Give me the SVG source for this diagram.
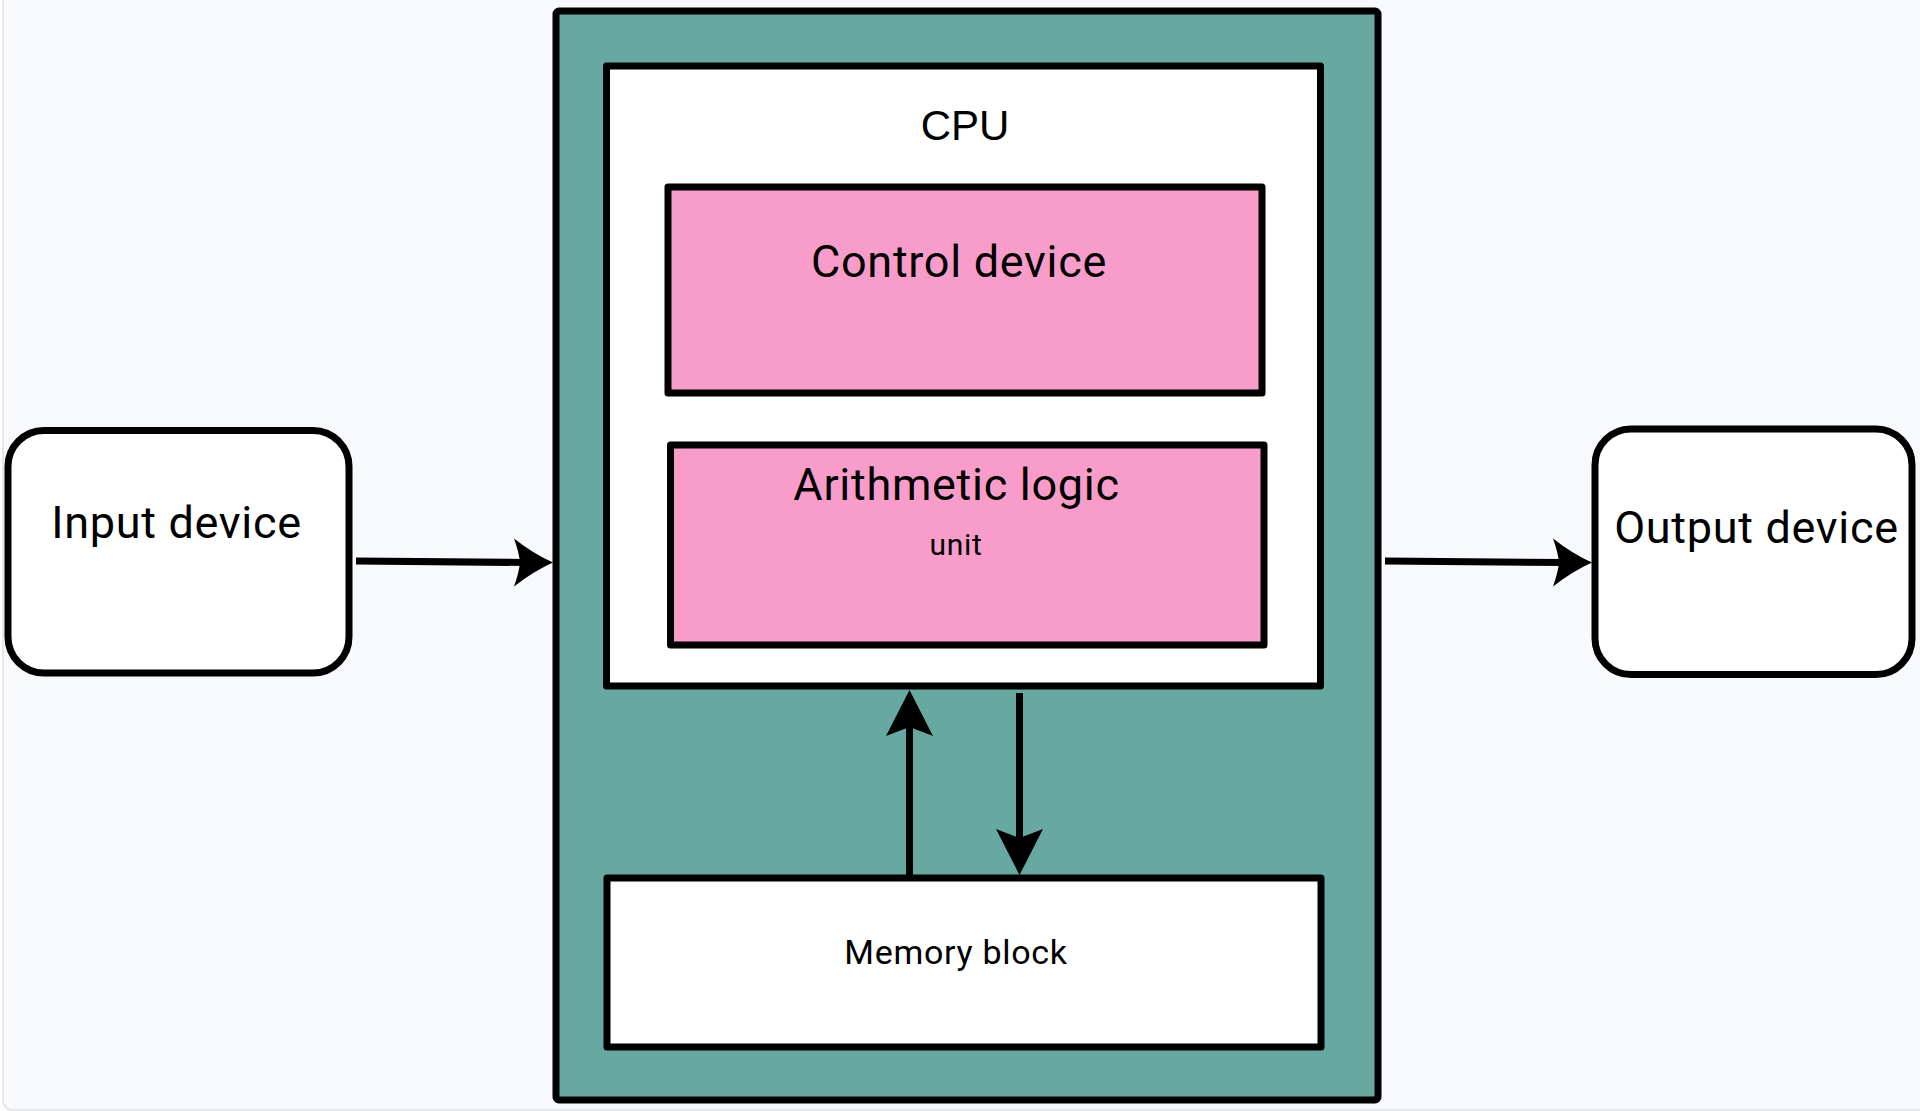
<svg xmlns="http://www.w3.org/2000/svg" xmlns:xlink="http://www.w3.org/1999/xlink" width="1920" height="1111" viewBox="0 0 1920 1111">
  <style>
    .box { stroke: #000; stroke-width: 7; stroke-linejoin: round; }
    .teal { fill: #67a9a1; }
    .white { fill: #ffffff; }
    .pink { fill: #f89dca; }
    .lbl { font-family: Roboto, "Liberation Sans", sans-serif; fill: #000; text-anchor: middle; letter-spacing: 0.7px; }
    .cpu { font-family: "Liberation Sans", Arial, sans-serif; fill: #000; text-anchor: middle; }
    .wire { stroke: #000; stroke-width: 7; fill: none; }
    .head { fill: #000; }
  </style>
  <defs>
    <path id="headFin" d="M0,0 Q-20,-9 -39,-24 Q-34,-10 -33,0 Q-34,10 -39,24 Q-20,9 0,0 Z"/>
    <path id="headStealth" d="M0,0 L-46,-23.5 L-37,0 L-46,23.5 Z"/>
  </defs>

  <rect x="0" y="0" width="1920" height="1111" fill="#ffffff"/>
  <rect x="3" y="-10" width="1930" height="1120" rx="9" fill="#f8f9fd" stroke="#dfe1e5" stroke-width="1.5"/>

  <g id="cpu-outer">
    <rect class="box teal" x="556" y="11" width="822" height="1089" rx="3"/>
  </g>
  <g id="cpu">
    <rect class="box white" x="606.5" y="66" width="714" height="620"/>
    <text class="cpu" x="965" y="140" font-size="42">CPU</text>
  </g>
  <g id="control-device">
    <rect class="box pink" x="668" y="187" width="594" height="206"/>
    <text class="lbl" x="959" y="277" font-size="45">Control device</text>
  </g>
  <g id="alu">
    <rect class="box pink" x="670.5" y="445" width="593.5" height="200"/>
    <text class="lbl" x="956.5" y="500" font-size="45">Arithmetic logic</text>
    <text class="lbl" x="956" y="555" font-size="30">unit</text>
  </g>
  <g id="memory-block">
    <rect class="box white" x="607" y="878" width="714" height="169"/>
    <text class="lbl" x="956" y="964" font-size="34">Memory block</text>
  </g>
  <g id="input-device">
    <rect class="box white" x="8" y="430.5" width="341" height="242.5" rx="36"/>
    <text class="lbl" x="176.5" y="538" font-size="45">Input device</text>
  </g>
  <g id="output-device">
    <rect class="box white" x="1595" y="429" width="317" height="245.5" rx="36"/>
    <text class="lbl" x="1756.5" y="543" font-size="45">Output device</text>
  </g>

  <g id="connectors">
    <line class="wire" x1="356" y1="561" x2="524" y2="562.5"/>
    <use class="head" xlink:href="#headFin" transform="translate(553,562.5)"/>
    <line class="wire" x1="1385" y1="561" x2="1563" y2="562.5"/>
    <use class="head" xlink:href="#headFin" transform="translate(1592,562.5)"/>
    <line class="wire" x1="909.5" y1="876" x2="909.5" y2="722"/>
    <use class="head" xlink:href="#headStealth" transform="translate(909.5,690) rotate(-90)"/>
    <line class="wire" x1="1019.5" y1="693" x2="1019.5" y2="842"/>
    <use class="head" xlink:href="#headStealth" transform="translate(1019.5,875) rotate(90)"/>
  </g>
</svg>
